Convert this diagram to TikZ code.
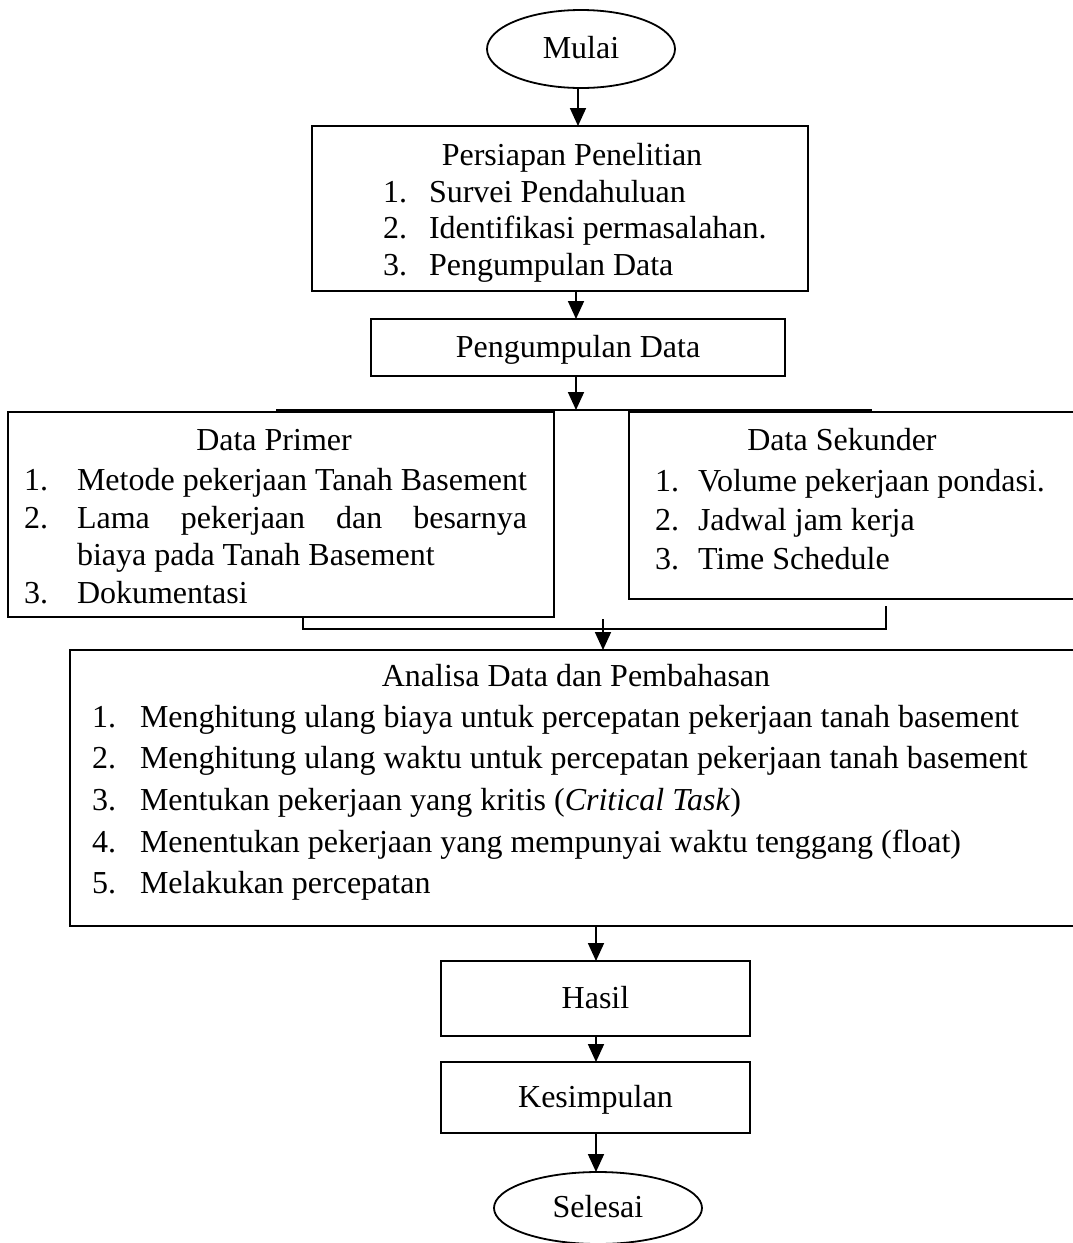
\documentclass[tikz,border=0pt]{standalone}
\usepackage{fontspec}
\setmainfont{Liberation Serif}
\usetikzlibrary{arrows.meta,shapes.geometric}
\newlength\primerwd
\begin{document}
\begin{tikzpicture}[x=1pt,y=-1pt,
  box/.style={draw, line width=1.8pt, rectangle, inner sep=0pt, outer sep=0pt,
    font=\fontsize{32}{38}\selectfont, text height=26pt, text depth=7pt},
  term/.style={draw, line width=1.8pt, ellipse, inner sep=0pt, outer sep=0pt,
    font=\fontsize{32}{38}\selectfont, text height=26pt, text depth=7pt},
  arr/.style={line width=1.8pt, -{Triangle[width=16pt,length=18pt]}},
  conn/.style={line width=1.8pt},
  txt/.style={inner sep=0pt, outer sep=0pt, anchor=base west, font=\fontsize{32}{38}\selectfont},
  ctxt/.style={txt, anchor=base},
]
\useasboundingbox (0,0) rectangle (1073,1243);
\clip (0,0) rectangle (1073,1243);

% terminals and boxes
\node[term, minimum width=188pt, minimum height=78pt] (mulai) at (581,49) {Mulai};
\node[box, minimum width=496pt, minimum height=165pt] (persiapan) at (560,208.5) {};
\node[box, minimum width=414pt, minimum height=57pt] (pengumpulan) at (578,347.5) {Pengumpulan Data};
\node[box, minimum width=546pt, minimum height=205pt] (primer) at (281,514.5) {};
\node[box, minimum width=456pt, minimum height=187pt] (sekunder) at (857,505.5) {};
\node[box, minimum width=1015pt, minimum height=276pt] (analisa) at (577.5,788) {};
\node[box, minimum width=309pt, minimum height=75pt] (hasil) at (595.5,998.5) {Hasil};
\node[box, minimum width=309pt, minimum height=71pt] (kesimpulan) at (595.5,1097.5) {Kesimpulan};
\node[term, minimum width=208pt, minimum height=72pt] (selesai) at (598,1208) {Selesai};

% Persiapan text
\node[ctxt] (pT) at (572,165) {Persiapan Penelitian};
\node[txt] (pN1) at (383,202) {1.};
\node[txt] (pI1) at (429,202) {Survei Pendahuluan};
\node[txt] (pN2) at (383,238) {2.};
\node[txt] (pI2) at (429,238) {Identifikasi permasalahan.};
\node[txt] (pN3) at (383,275) {3.};
\node[txt] (pI3) at (429,275) {Pengumpulan Data};

% Data Primer text
\node[ctxt] (dpT) at (274,450) {Data Primer};
\node[txt] (dpN1) at (24,490) {1.};
\node[txt] (dpI1) at (77,490) {Metode pekerjaan Tanah Basement};
\node[txt] (dpN2) at (24,528) {2.};
\node[txt] (dpI2) at (77,528) {\settowidth{\primerwd}{Metode pekerjaan Tanah Basement}\makebox[\primerwd][s]{Lama pekerjaan dan besarnya}};
\node[txt] (dpI2b) at (77,565) {biaya pada Tanah Basement};
\node[txt] (dpN3) at (24,603) {3.};
\node[txt] (dpI3) at (77,603) {Dokumentasi};

% Data Sekunder text
\node[ctxt] (dsT) at (842,450) {Data Sekunder};
\node[txt] (dsN1) at (655,491) {1.};
\node[txt] (dsI1) at (698,491) {Volume pekerjaan pondasi.};
\node[txt] (dsN2) at (655,530) {2.};
\node[txt] (dsI2) at (698,530) {Jadwal jam kerja};
\node[txt] (dsN3) at (655,569) {3.};
\node[txt] (dsI3) at (698,569) {Time Schedule};

% Analisa text
\node[ctxt] (aT) at (576,686) {Analisa Data dan Pembahasan};
\node[txt] (aN1) at (92,727) {1.};
\node[txt] (aI1) at (140,727) {Menghitung ulang biaya untuk percepatan pekerjaan tanah basement};
\node[txt] (aN2) at (92,768) {2.};
\node[txt] (aI2) at (140,768) {Menghitung ulang waktu untuk percepatan pekerjaan tanah basement};
\node[txt] (aN3) at (92,810) {3.};
\node[txt] (aI3) at (140,810) {Mentukan pekerjaan yang kritis (\textit{Critical Task})};
\node[txt] (aN4) at (92,852) {4.};
\node[txt] (aI4) at (140,852) {Menentukan pekerjaan yang mempunyai waktu tenggang (float)};
\node[txt] (aN5) at (92,893) {5.};
\node[txt] (aI5) at (140,893) {Melakukan percepatan};

% connector coordinates
\coordinate (splitL) at (276,410);
\coordinate (splitR) at (872,410);
\coordinate (mL) at (303,629);
\coordinate (mR) at (886,629);
\coordinate (mRtop) at (886,606);
\coordinate (mA) at (603,619);

% connectors
\draw[arr] (mulai.south -| 578,0) -- (578,0 |- persiapan.north);
\draw[arr] (persiapan.south -| 576,0) -- (576,0 |- pengumpulan.north);
\draw[arr] (pengumpulan.south -| 576,0) -- (576,0 |- splitL);
\draw[conn] (splitL) -- (splitR);
\draw[conn] (primer.south -| mL) -- (mL) -- (mR) -- (mRtop);
\draw[arr] (mA) -- (mA |- analisa.north);
\draw[arr] (analisa.south -| 596,0) -- (596,0 |- hasil.north);
\draw[arr] (hasil.south -| 596,0) -- (596,0 |- kesimpulan.north);
\draw[arr] (kesimpulan.south -| 596,0) -- (596,0 |- selesai.north);
\end{tikzpicture}
\end{document}
